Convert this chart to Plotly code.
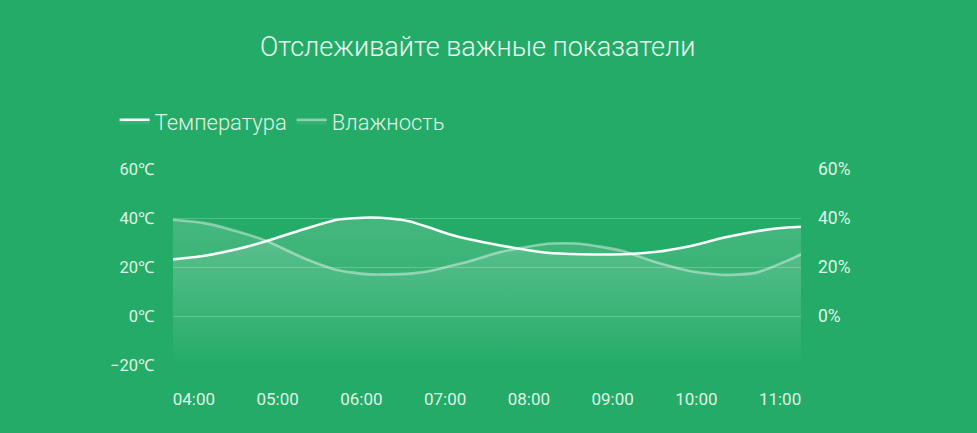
import plotly.graph_objects as go

# sample times (hours) read across the plot width
hours = [3.75, 4.11, 4.51, 4.87, 5.30, 5.71, 6.10, 6.34, 6.58, 6.82, 7.06,
         7.30, 7.66, 8.22, 8.61, 9.12, 9.53, 9.92, 10.32, 10.72, 11.12, 11.25]
temperature = [23.1, 24.5, 27.2, 30.6, 35.3, 39.3, 40.2, 39.8, 38.6, 36.0, 33.3,
               31.2, 28.8, 25.8, 25.2, 25.2, 26.2, 28.5, 31.9, 34.6, 36.2, 36.4]
humidity = [39.3, 38.0, 34.6, 30.6, 23.8, 18.8, 17.0, 17.0, 17.3, 18.4, 20.4,
            22.5, 26.1, 29.5, 29.5, 26.5, 21.8, 18.4, 16.8, 17.7, 23.1, 25.2]

tick_hours = [4, 5, 6, 7, 8, 9, 10, 11]
tick_labels = ["04:00", "05:00", "06:00", "07:00", "08:00", "09:00", "10:00", "11:00"]
temp_ticks = [-20, 0, 20, 40, 60]
temp_labels = ["−20℃", "0℃", "20℃", "40℃", "60℃"]
hum_ticks = [0, 20, 40, 60]
hum_labels = ["0%", "20%", "40%", "60%"]
axis_min, axis_max = -20, 60
baseline = [axis_min] * len(hours)

BG = "#25AB68"
TXT = "rgba(235,250,242,0.95)"
FONT = "Roboto, 'Liberation Sans', sans-serif"

grad = dict(type="vertical",
            colorscale=[[0, "rgba(255,255,255,0.0)"], [1, "rgba(255,255,255,0.15)"]])

fig = go.Figure()
fig.add_trace(go.Scatter(x=hours, y=baseline, mode="lines", line=dict(width=0),
                         showlegend=False, hoverinfo="skip", yaxis="y"))
fig.add_trace(go.Scatter(x=hours, y=temperature, name="Температура", mode="lines",
                         line=dict(color="rgba(255,255,255,0.97)", width=2.6, shape="spline", smoothing=0.6),
                         fill="tonexty", fillgradient=grad, yaxis="y"))
fig.add_trace(go.Scatter(x=hours, y=baseline, mode="lines", line=dict(width=0),
                         showlegend=False, hoverinfo="skip", yaxis="y2"))
fig.add_trace(go.Scatter(x=hours, y=humidity, name="Влажность", mode="lines",
                         line=dict(color="rgba(255,255,255,0.42)", width=2.6, shape="spline", smoothing=0.6),
                         fill="tonexty", fillgradient=grad, yaxis="y2"))

fig.update_layout(
    width=977, height=433,
    margin=dict(l=173, r=176, t=169, b=68),
    paper_bgcolor=BG, plot_bgcolor=BG,
    font=dict(family=FONT, color=TXT, size=16),
    title=dict(text="Отслеживайте важные показатели", x=0.489, xref="container", xanchor="center",
               y=1 - 47 / 433, yref="container", yanchor="middle",
               font=dict(size=27, color="rgba(240,252,246,0.97)", family=FONT, weight=300)),
    showlegend=True,
    legend=dict(orientation="h", x=-0.093, xanchor="left", y=1 + 47 / 196, yanchor="middle",
                font=dict(size=22, color=TXT, weight=300), bgcolor="rgba(0,0,0,0)",
                itemwidth=30, traceorder="normal"),
    xaxis=dict(range=[3.75, 11.25], tickvals=tick_hours, ticktext=tick_labels,
               showgrid=False, zeroline=False, showline=False, ticks="",
               ticklabelstandoff=22, tickfont=dict(size=17, color=TXT)),
    yaxis=dict(range=[axis_min, axis_max], tickvals=temp_ticks, ticktext=temp_labels,
               showgrid=True, gridcolor="rgba(255,255,255,0.22)", gridwidth=1,
               zeroline=False, showline=False, ticks="", ticklabelstandoff=18,
               tickfont=dict(size=16.5, color=TXT)),
    yaxis2=dict(range=[axis_min, axis_max], tickvals=hum_ticks, ticktext=hum_labels,
                overlaying="y", side="right", showgrid=False, zeroline=False,
                showline=False, ticks="", ticklabelstandoff=16,
                tickfont=dict(size=17.5, color=TXT)),
)

fig.write_html("out.html", config={"displayModeBar": False},
               post_script="document.body.style.margin='0';document.body.style.padding='0';"
                           "document.body.style.overflow='hidden';"
                           "document.body.style.background='" + BG + "';")
